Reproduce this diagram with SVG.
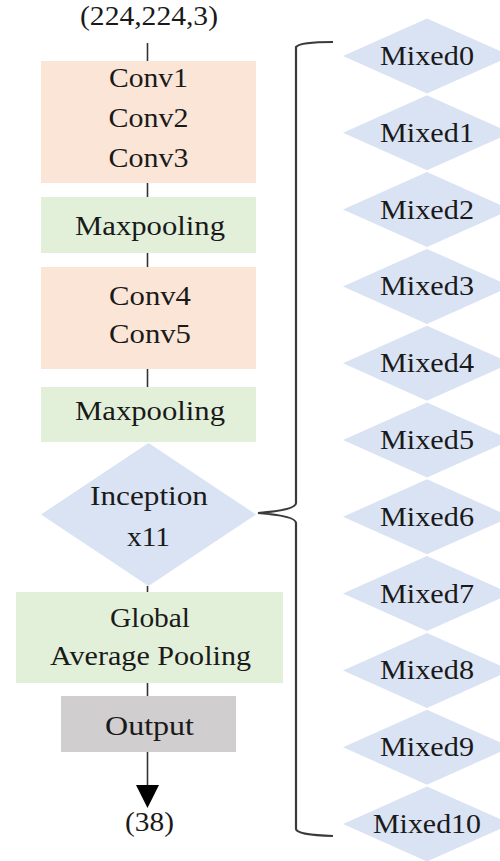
<svg xmlns="http://www.w3.org/2000/svg" width="500" height="861" viewBox="0 0 500 861">
<style>
text{font-family:"Liberation Serif","Times New Roman",serif;font-size:28px;fill:#1a1a1a;text-anchor:middle}
.conv{fill:#fbe5d6}
.pool{fill:#e2f0d9}
.out{fill:#d0cece}
.dia{fill:#dae3f3}
.ln{stroke:#333;stroke-width:1.6;fill:none}
.brace{stroke:#3a3a3a;stroke-width:2.2;fill:none}
</style>
<rect width="500" height="861" fill="#fff"/>
<g id="connectors">
<line class="ln" x1="147.5" y1="43" x2="147.5" y2="61"/>
<line class="ln" x1="147.5" y1="183" x2="147.5" y2="197"/>
<line class="ln" x1="147.5" y1="253" x2="147.5" y2="267"/>
<line class="ln" x1="147.5" y1="369" x2="147.5" y2="387"/>
<line class="ln" x1="147.5" y1="586" x2="147.5" y2="592"/>
<line class="ln" x1="147.5" y1="683" x2="147.5" y2="696"/>
<line class="ln" x1="147.5" y1="752" x2="147.5" y2="786"/>
<polygon points="136,785 159,785 147.5,808" fill="#000"/>
<path class="brace" d="M333,42 Q300,42 296,47 L296,503 Q296,510 258,513 Q296,516 296,523 L296,829 Q297,835 333,836"/>
</g>
<g id="input"><text x="149" y="25" textLength="138" lengthAdjust="spacingAndGlyphs">(224,224,3)</text></g>
<g id="conv123">
<rect class="conv" x="41" y="61" width="215" height="122"/>
<text x="148.5" y="87" textLength="79" lengthAdjust="spacingAndGlyphs">Conv1</text>
<text x="148.5" y="127" textLength="80" lengthAdjust="spacingAndGlyphs">Conv2</text>
<text x="148.5" y="167" textLength="80" lengthAdjust="spacingAndGlyphs">Conv3</text>
</g>
<g id="maxpool1">
<rect class="pool" x="41" y="197" width="215" height="56"/>
<text x="150" y="235" textLength="150" lengthAdjust="spacingAndGlyphs">Maxpooling</text>
</g>
<g id="conv45">
<rect class="conv" x="41" y="267" width="215" height="102"/>
<text x="150" y="305" textLength="82" lengthAdjust="spacingAndGlyphs">Conv4</text>
<text x="150" y="343" textLength="82" lengthAdjust="spacingAndGlyphs">Conv5</text>
</g>
<g id="maxpool2">
<rect class="pool" x="41" y="387" width="215" height="55"/>
<text x="150" y="420" textLength="150" lengthAdjust="spacingAndGlyphs">Maxpooling</text>
</g>
<g id="inception">
<polygon class="dia" points="148.5,443 256,514.5 148.5,586 41,514.5"/>
<text x="149" y="505" textLength="118" lengthAdjust="spacingAndGlyphs">Inception</text>
<text x="148.5" y="546" textLength="43" lengthAdjust="spacingAndGlyphs">x11</text>
</g>
<g id="gap">
<rect class="pool" x="16" y="592" width="267" height="91"/>
<text x="150" y="627" textLength="80" lengthAdjust="spacingAndGlyphs">Global</text>
<text x="150.5" y="665" textLength="201" lengthAdjust="spacingAndGlyphs">Average Pooling</text>
</g>
<g id="output">
<rect class="out" x="61" y="696" width="175" height="56"/>
<text x="149.5" y="735" textLength="89" lengthAdjust="spacingAndGlyphs">Output</text>
</g>
<g id="result"><text x="149.5" y="831" textLength="49" lengthAdjust="spacingAndGlyphs">(38)</text></g>
<g id="mixed0"><polygon class="dia" points="427,18.5 511,56 427,93.5 343,56"/><text x="427" y="65" textLength="94" lengthAdjust="spacingAndGlyphs">Mixed0</text></g>
<g id="mixed1"><polygon class="dia" points="427,95.3 511,132.8 427,170.3 343,132.8"/><text x="427" y="142" textLength="94" lengthAdjust="spacingAndGlyphs">Mixed1</text></g>
<g id="mixed2"><polygon class="dia" points="427,172.1 511,209.6 427,247.1 343,209.6"/><text x="427" y="218.5" textLength="94" lengthAdjust="spacingAndGlyphs">Mixed2</text></g>
<g id="mixed3"><polygon class="dia" points="427,248.9 511,286.4 427,323.9 343,286.4"/><text x="427" y="295.3" textLength="94" lengthAdjust="spacingAndGlyphs">Mixed3</text></g>
<g id="mixed4"><polygon class="dia" points="427,325.7 511,363.2 427,400.7 343,363.2"/><text x="427" y="372.1" textLength="94" lengthAdjust="spacingAndGlyphs">Mixed4</text></g>
<g id="mixed5"><polygon class="dia" points="427,402.5 511,440 427,477.5 343,440"/><text x="427" y="448.9" textLength="94" lengthAdjust="spacingAndGlyphs">Mixed5</text></g>
<g id="mixed6"><polygon class="dia" points="427,479.3 511,516.8 427,554.3 343,516.8"/><text x="427" y="525.7" textLength="94" lengthAdjust="spacingAndGlyphs">Mixed6</text></g>
<g id="mixed7"><polygon class="dia" points="427,556.1 511,593.6 427,631.1 343,593.6"/><text x="427" y="602.5" textLength="94" lengthAdjust="spacingAndGlyphs">Mixed7</text></g>
<g id="mixed8"><polygon class="dia" points="427,632.9 511,670.4 427,707.9 343,670.4"/><text x="427" y="679.3" textLength="94" lengthAdjust="spacingAndGlyphs">Mixed8</text></g>
<g id="mixed9"><polygon class="dia" points="427,709.7 511,747.2 427,784.7 343,747.2"/><text x="427" y="756.1" textLength="94" lengthAdjust="spacingAndGlyphs">Mixed9</text></g>
<g id="mixed10"><polygon class="dia" points="427,786.5 511,824 427,861.5 343,824"/><text x="427" y="832.9" textLength="108" lengthAdjust="spacingAndGlyphs">Mixed10</text></g>
</svg>
